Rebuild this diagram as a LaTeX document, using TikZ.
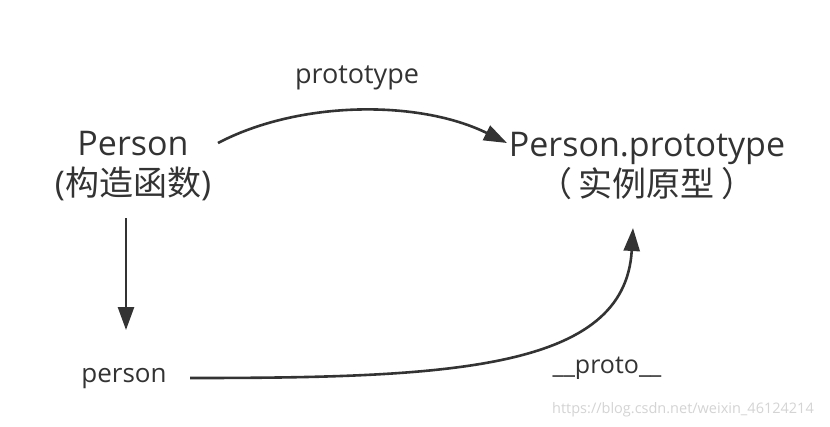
\documentclass[tikz,border=0pt]{standalone}
\usepackage{fontspec}
\setmainfont{Open Sans}
\newfontfamily\cjk{Noto Sans CJK SC}
\usetikzlibrary{arrows.meta}
\definecolor{ink}{HTML}{333333}
\definecolor{mark}{HTML}{D4D4D4}
\tikzset{
  lbl/.style={inner sep=0pt, text=ink},
  big/.style={lbl, align=center, font=\fontsize{34}{40}\selectfont},
  arr/.style={draw=ink, line width=2.6pt, -{Triangle[length=23pt,width=16pt]}}
}
\begin{document}
\begin{tikzpicture}[x=1pt,y=-1pt]
\useasboundingbox[fill=white] (0,0) rectangle (830,426);
\node[big] (ctor) at (133,166) {Person\\({\cjk 构造函数})};
\node[big] (proto) at (647,166) {Person.prototype\\{\cjk （\hspace{7pt}实例原型\hspace{7pt}）}};
\node[lbl, anchor=base, font=\fontsize{26}{30}\selectfont] (inst) at (124,382) {person};
\node[lbl, anchor=base, font=\fontsize{27}{32}\selectfont] (lp) at (357,83) {prototype};
\node[lbl, anchor=base, font=\fontsize{25}{30}\selectfont] (lq) at (607,373) {\_\_proto\_\_};
\node[lbl, anchor=base west, text=mark, font=\fontsize{14.5}{17}\selectfont] (wm) at (552,413) {https://blog.csdn.net/weixin\_46124214};
\draw[arr] ([shift={(85,-23)}]ctor.center) .. controls (300,100) and (420,100) .. ([shift={(-140,-23)}]proto.center);
\draw[arr] ([shift={(-7,52)}]ctor.center) -- ([shift={(2,-52)}]inst.base);
\draw[arr] ([shift={(66,-4)}]inst.base) .. controls (450,378) and (625,370) .. ([shift={(-14,62)}]proto.center);
\end{tikzpicture}
\end{document}
